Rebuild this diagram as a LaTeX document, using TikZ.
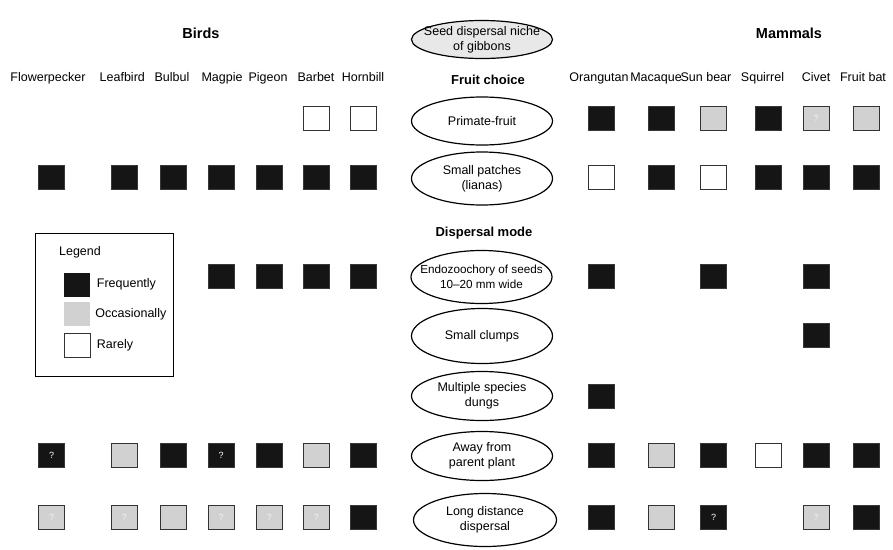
\documentclass[tikz,border=0pt]{standalone}
\usepackage{fontspec}
\setmainfont{Liberation Sans}
\usetikzlibrary{positioning,shapes.geometric}

\definecolor{freqfill}{HTML}{151515}
\definecolor{occfill}{HTML}{D0D1D0}
\definecolor{nichefill}{HTML}{E8E8E8}

\tikzset{
  every node/.style={font=\fontsize{12.5}{15}\selectfont},
  head/.style={font=\fontsize{14.5}{16}\selectfont\bfseries},
  subhead/.style={font=\fontsize{13}{15}\selectfont\bfseries},
  species/.style={anchor=base},
  niche/.style={draw, ellipse, line width=1.2pt, inner sep=-80pt,
    minimum width=141pt, minimum height=#1, align=center},
  niche/.default=50pt,
  sqcell/.style={minimum width=26pt, minimum height=24pt, inner sep=0pt, line width=0.8pt},
  freq/.style={sqcell, fill=freqfill, draw=freqfill!85!white},
  occ/.style={sqcell, fill=occfill, draw=black!80},
  rare/.style={sqcell, fill=white, draw=black!80},
  freqq/.style={freq, label={[text=white, font=\fontsize{9}{9}\selectfont]center:?}},
  occq/.style={occ, label={[text=white!95!black, font=\fontsize{9}{9}\selectfont]center:?}},
}

\begin{document}
\begin{tikzpicture}[x=1pt, y=-1pt]
  \useasboundingbox (0,0) rectangle (893,549);

  % niche column
  \node[niche=38pt, fill=nichefill] (gibbons) at (482,39.5) {Seed dispersal niche\\of gibbons};
  \node[subhead] (choice) at (488,80) {Fruit choice};
  \node[niche=48pt] (primate) at (482,121) {Primate-fruit};
  \node[niche=53pt] (patches) at (482,178.5) {Small patches\\(lianas)};
  \node[subhead] (mode) at (484,233.5) {Dispersal mode};
  \node[niche=53pt, font=\fontsize{11.7}{15}\selectfont] (endo) at (481.5,277) {Endozoochory of seeds\\10--20 mm wide};
  \node[niche=55pt] (clumps) at (482,336) {Small clumps};
  \node[niche=49pt] (dungs) at (482,396) {Multiple species\\dungs};
  \node[niche=49pt] (away) at (482,456) {Away from\\parent plant};
  \node[niche=53pt, minimum width=143pt] (longdist) at (485,520) {Long distance\\dispersal};

  % titles and species
  \node[head] (birds) at (201,33) {Birds};
  \node[head] (mammals) at (789,33) {Mammals};
  \node[species] (flowerpecker) at (48,81) {Flowerpecker};
  \node[species] (leafbird) at (122.3,81) {Leafbird};
  \node[species] (bulbul) at (172,81) {Bulbul};
  \node[species] (magpie) at (222,81) {Magpie};
  \node[species] (pigeon) at (268,81) {Pigeon};
  \node[species] (barbet) at (316,81) {Barbet};
  \node[species] (hornbill) at (363,81) {Hornbill};
  \node[species] (orangutan) at (599,81) {Orangutan};
  \node[species] (macaque) at (656,81) {Macaque};
  \node[species] (sunbear) at (706,81) {Sun bear};
  \node[species] (squirrel) at (762.5,81) {Squirrel};
  \node[species] (civet) at (816,81) {Civet};
  \node[species] (fruitbat) at (863,81) {Fruit bat};

  % columns and rows of the table
  \foreach \x [count=\i] in {51.7,124.3,173,221,269.3,316.3,363.3,601,661,713.5,768,816,866}
    \coordinate (col\i) at (\x,0);
  \foreach \r/\y in {primate/118, patches/177.5, endo/276, clumps/335, dungs/396, away/455.5, longdist/517}
    \coordinate (row-\r) at (0,\y);

  \foreach \c/\s in {6/rare, 7/rare, 8/freq, 9/freq, 10/occ, 11/freq, 12/occq, 13/occ}
    \node[\s] (primate-\c) at (col\c |- row-primate) {};
  \foreach \c/\s in {1/freq, 2/freq, 3/freq, 4/freq, 5/freq, 6/freq, 7/freq, 8/rare, 9/freq, 10/rare, 11/freq, 12/freq, 13/freq}
    \node[\s] (patches-\c) at (col\c |- row-patches) {};
  \foreach \c in {4,5,6,7,8,10,12}
    \node[freq] (endo-\c) at (col\c |- row-endo) {};
  \node[freq] (clumps-12) at (col12 |- row-clumps) {};
  \node[freq] (dungs-8) at (col8 |- row-dungs) {};
  \foreach \c/\s in {1/freqq, 2/occ, 3/freq, 4/freqq, 5/freq, 6/occ, 7/freq, 8/freq, 9/occ, 10/freq, 11/rare, 12/freq, 13/freq}
    \node[\s] (away-\c) at (col\c |- row-away) {};
  \foreach \c/\s in {1/occq, 2/occq, 3/occ, 4/occq, 5/occq, 6/occq, 7/freq, 8/freq, 9/occ, 10/freqq, 12/occq, 13/freq}
    \node[\s] (longdist-\c) at (col\c |- row-longdist) {};

  % legend
  \node[draw, line width=0.8pt, inner sep=0pt, minimum width=138pt, minimum height=143pt] (legend) at (104.5,304.5) {};
  \node (legend-title) at (80,252) {Legend};
  \node[freq, draw=none] (key-freq) at (77,284.7) {};
  \node[occ, draw=none] (key-occ) at (77,314) {};
  \node[rare] (key-rare) at (77,345.3) {};
  \node[right=3pt of key-freq] (key-freq-text) {Frequently};
  \node[right=1.5pt of key-occ] (key-occ-text) {Occasionally};
  \node[right=3pt of key-rare] (key-rare-text) {Rarely};
\end{tikzpicture}
\end{document}
